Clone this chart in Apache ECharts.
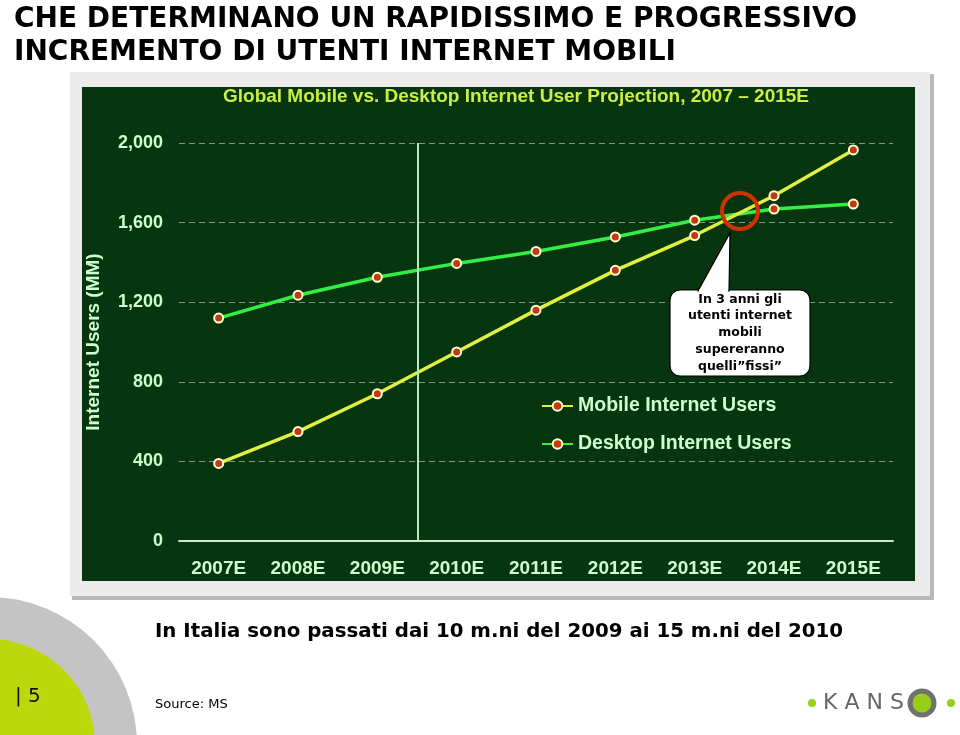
<!DOCTYPE html>
<html><head><meta charset="utf-8">
<script src="https://cdn.jsdelivr.net/npm/echarts@6/dist/echarts.min.js"></script>
<style>html,body{margin:0;padding:0;background:#fff}#c{width:960px;height:735px}</style>
</head><body><div id="c"></div>
<script>
const categories = ['2007E','2008E','2009E','2010E','2011E','2012E','2013E','2014E','2015E'];
const mobileUsers = [390, 550, 740, 950, 1160, 1360, 1535, 1735, 1965];
const desktopUsers = [1120, 1235, 1325, 1395, 1455, 1528, 1612, 1668, 1693];
const yTicks = [0, 400, 800, 1200, 1600, 2000];

const chart = echarts.init(document.getElementById('c'));
const lblFont = '"Liberation Sans",Arial,sans-serif';
const vFont = '"DejaVu Sans",Verdana,sans-serif';
const marker = {color:'#c23a14', borderColor:'#ffffd0', borderWidth:2};
chart.setOption({
  backgroundColor:'#ffffff',
  animation:false,
  graphic:[
    {type:'rect', shape:{x:72,y:74,width:862,height:526}, style:{fill:'#b8b8b8'}, z:-10},
    {type:'rect', shape:{x:70,y:72,width:860,height:524}, style:{fill:'#ebebeb'}, z:-9},
    {type:'rect', shape:{x:82,y:87,width:833,height:494}, style:{fill:'#07350f'}, z:-8},
    {type:'text', x:14, y:3, style:{text:'CHE DETERMINANO UN RAPIDISSIMO E PROGRESSIVO\nINCREMENTO DI UTENTI INTERNET MOBILI', font:'bold 28px '+vFont, fill:'#000', lineHeight:33}},
    {type:'text', x:516, y:97, style:{text:'Global Mobile vs. Desktop Internet User Projection, 2007 \u2013 2015E', font:'bold 19px '+lblFont, fill:'#ccee44', textAlign:'center', textVerticalAlign:'middle'}},
    {type:'line', shape:{x1:418,y1:143,x2:418,y2:541}, style:{stroke:'#b8e8b8', lineWidth:2}, z:5},
    {type:'circle', shape:{cx:740,cy:211,r:18}, style:{fill:'none', stroke:'#cc3300', lineWidth:4}, z:20},
    {type:'rect', shape:{x:670,y:290,width:140,height:86,r:10}, style:{fill:'#fff', stroke:'#000', lineWidth:1.2}, z:20},
    {type:'polygon', shape:{points:[[698,291],[730,233],[729,291]]}, style:{fill:'#fff', stroke:'#000', lineWidth:1.2}, z:21},
    {type:'rect', shape:{x:699,y:289.5,width:29,height:3}, style:{fill:'#fff'}, z:22},
    {type:'text', x:740, y:291, style:{text:'In 3 anni gli\nutenti internet\nmobili\nsupereranno\nquelli\u201dfissi\u201d', font:'bold 12.5px '+vFont, fill:'#000', textAlign:'center', lineHeight:16.75}, z:23},
    {type:'circle', shape:{cx:-11,cy:745,r:148}, style:{fill:'#c4c4c4'}, z:-5},
    {type:'circle', shape:{cx:-11,cy:745,r:106}, style:{fill:'#bad80a'}, z:-4},
    {type:'text', x:15, y:697, style:{text:'| 5', font:'20px '+vFont, fill:'#111', textVerticalAlign:'middle'}},
    {type:'text', x:155, y:632, style:{text:'In Italia sono passati dai 10 m.ni del 2009 ai 15 m.ni del 2010', font:'bold 19.8px '+vFont, fill:'#000', textVerticalAlign:'middle'}},
    {type:'text', x:155, y:705, style:{text:'Source: MS', font:'13px '+vFont, fill:'#000', textVerticalAlign:'middle'}},
    {type:'circle', shape:{cx:812,cy:703,r:4}, style:{fill:'#9acd1a'}},
    {type:'text', x:823, y:703, style:{text:'K A N S', font:'22px '+vFont, fill:'#666', textVerticalAlign:'middle'}},
    {type:'circle', shape:{cx:922,cy:703,r:12}, style:{fill:'#9acd1a', stroke:'#707070', lineWidth:5}},
    {type:'circle', shape:{cx:951,cy:703,r:4}, style:{fill:'#9acd1a'}}
  ],
  grid:{left:179, right:67, top:143, bottom:194},
  legend:{
    orient:'vertical', left:536, top:391, itemGap:18, itemWidth:31, itemHeight:12,
    textStyle:{color:'#ccffcc', fontSize:19.5, fontWeight:'bold', fontFamily:lblFont},
    data:['Mobile Internet Users','Desktop Internet Users']
  },
  xAxis:{
    type:'category', data:categories, boundaryGap:true,
    axisLine:{lineStyle:{color:'#c4f0c4', width:2}},
    axisTick:{length:6, lineStyle:{color:'#c4f0c4', width:2}},
    axisLabel:{color:'#ccffcc', fontSize:19, fontWeight:'bold', fontFamily:lblFont, margin:18}
  },
  yAxis:{
    type:'value', min:0, max:2000, interval:400,
    name:'Internet Users (MM)', nameLocation:'middle', nameGap:76, nameRotate:90,
    nameTextStyle:{color:'#ccffcc', fontSize:19, fontWeight:'bold', fontFamily:lblFont},
    axisLine:{show:false}, axisTick:{show:false},
    axisLabel:{color:'#ccffcc', fontSize:18, fontWeight:'bold', fontFamily:lblFont, margin:16,
      formatter:v => yTicks.includes(v) ? v.toLocaleString('en-US') : ''},
    splitLine:{lineStyle:{color:'#7d9a7d', type:[6,4], width:1}}
  },
  series:[
    {name:'Mobile Internet Users', type:'line', data:mobileUsers, symbol:'circle', symbolSize:9,
      lineStyle:{color:'#e0f040', width:3.5}, itemStyle:marker, color:'#e0f040', z:3},
    {name:'Desktop Internet Users', type:'line', data:desktopUsers, symbol:'circle', symbolSize:9,
      lineStyle:{color:'#33ee44', width:3.5}, itemStyle:marker, color:'#33ee44', z:2}
  ]
});
</script></body></html>
